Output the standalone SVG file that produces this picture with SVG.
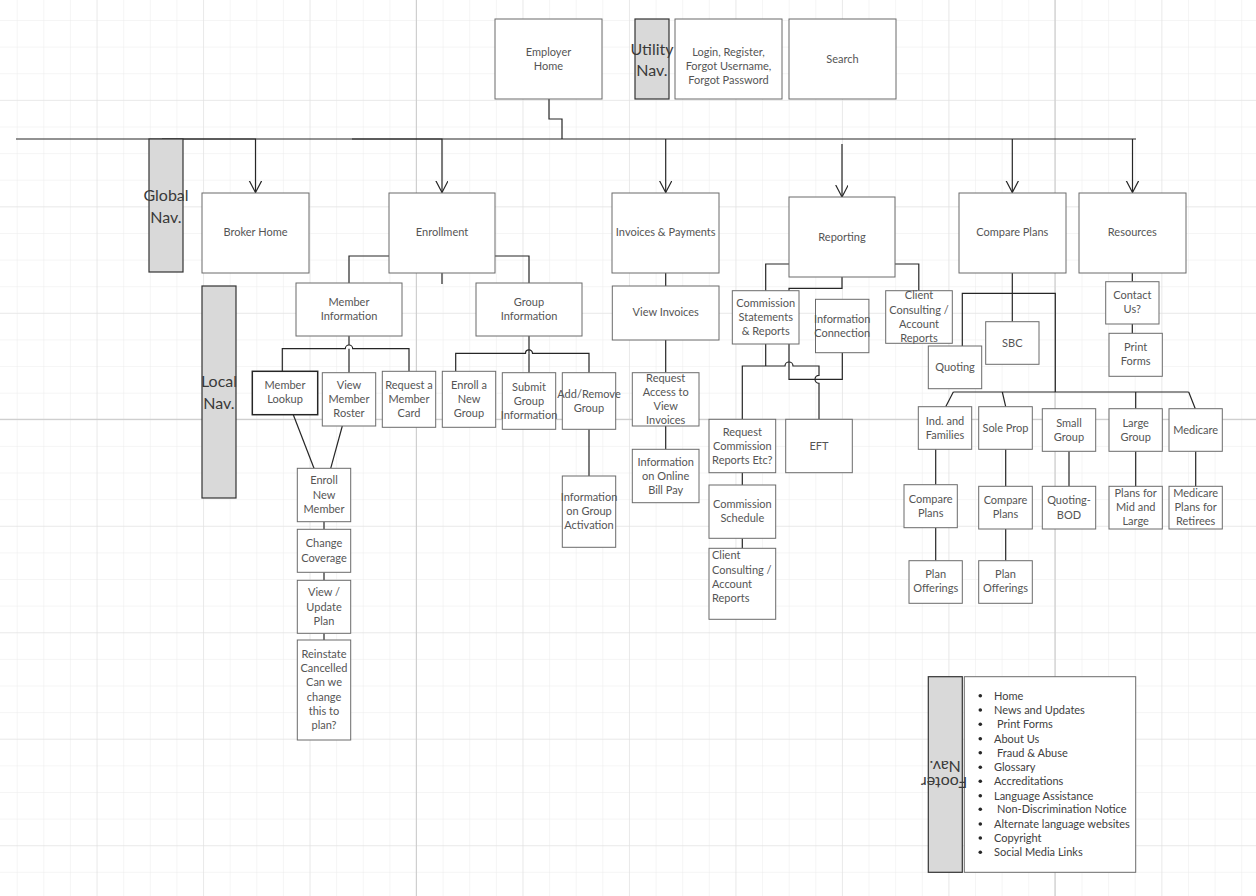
<svg xmlns="http://www.w3.org/2000/svg" width="1256" height="896" viewBox="0 0 1256 896">
<defs>
<pattern id="gMinor" x="16.7" y="20" width="26.62" height="26.62" patternUnits="userSpaceOnUse">
<path d="M0,0 V26.62 M0,0 H26.62" fill="none" stroke="#ececec" stroke-width="1"/>
</pattern>
<pattern id="gMajor" x="96.56" y="99.86" width="106.48" height="106.48" patternUnits="userSpaceOnUse">
<path d="M0,0 V106.48 M0,0 H106.48" fill="none" stroke="#e0e0e0" stroke-width="1"/>
</pattern>
<marker id="arr" markerUnits="userSpaceOnUse" markerWidth="16" markerHeight="16" refX="12" refY="6.3" orient="auto">
<path d="M0,0 L12,6.3 L0,12.6" fill="none" stroke="#262626" stroke-width="1.2"/>
</marker>
<style>
.box{fill:#fff;stroke:#6b6b6b;stroke-width:1}
.dbox{fill:#fff;stroke:#262626;stroke-width:1.5}
.bar{fill:#d9d9d9;stroke:#333;stroke-width:1.2}
.t{font-family:Lato,"Liberation Sans",sans-serif;font-size:11px;fill:#555;text-anchor:middle}
.l{text-anchor:start}
.big{font-family:Lato,"Liberation Sans",sans-serif;font-size:16px;fill:#3a3a3a;text-anchor:middle}
.c{fill:none;stroke:#262626;stroke-width:1.2}
.li{font-family:Lato,"Liberation Sans",sans-serif;font-size:11px;fill:#404040}
</style>
</defs>
<rect width="1256" height="896" fill="#fff"/>
<rect width="1256" height="896" fill="url(#gMinor)"/>
<rect width="1256" height="896" fill="url(#gMajor)"/>
<path d="M416.4,0 V896 M1055,0 V896 M0,419.3 H1256" stroke="#cfcfcf" stroke-width="1.2" fill="none"/>

<g id="connectors">
<path class="c" d="M16,139 H1136"/>
<path class="c" d="M549,99 V119 H562 V139"/>
<path class="c" d="M162,139 H255.5 V192.5" marker-end="url(#arr)"/>
<path class="c" d="M352,139 H442 V192.5" marker-end="url(#arr)"/>
<path class="c" d="M665.7,139 V192.5" marker-end="url(#arr)"/>
<path class="c" d="M842,144 V197" marker-end="url(#arr)"/>
<path class="c" d="M1012.3,139 V192.5" marker-end="url(#arr)"/>
<path class="c" d="M1132.5,139 V192.5" marker-end="url(#arr)"/>
<path class="c" d="M442,273 V284"/>
<path class="c" d="M349,283 V256 H529 V283"/>
<path class="c" d="M349,336 V345"/>
<path class="c" d="M282.3,371.3 V348.7 H345.3 A3.7,3.7 0 0 1 352.7,348.7 H409 V371.3"/>
<path class="c" d="M349,348.7 V372.7"/>
<path class="c" d="M529,336 V353.3"/>
<path class="c" d="M455.7,371.3 V353.3 H525.5 A3.5,3.5 0 0 1 532.5,353.3 H589 V372.7"/>
<path class="c" d="M529,353.3 V372.7"/>
<path class="c" d="M589,429.3 V476"/>
<path class="c" d="M293.3,414.7 L314,468.3"/>
<path class="c" d="M342.3,426 L330.7,468.3"/>
<path class="c" d="M324,521.7 V529.3 M324,572.3 V580.3 M324,633.3 V640"/>
<path class="c" d="M665.7,273 V286 M665.7,340 V372.7 M665.7,426 V449.3"/>
<path class="c" d="M765.7,291 V264 H918.8 V291"/>
<path class="c" d="M842,277 V288.3 H789 V291"/>
<path class="c" d="M765.7,344 V366"/>
<path class="c" d="M742.3,419.3 V366 H785 A4,4 0 0 1 793,366 H819 V375.3 A4,4 0 0 0 819,383.3 V419.3"/>
<path class="c" d="M789,344 V379.3 H842.3 V352.7"/>
<path class="c" d="M742.3,472.7 V485 M742.3,538.3 V548.3"/>
<path class="c" d="M1012.3,273 V321.7"/>
<path class="c" d="M962.3,346 V293.3 H1055.3 V392"/>
<path class="c" d="M953.3,392 H1188.7 M953.3,392 L945.7,406.7 M1002.3,392 L1005.7,406.7 M1135.7,392 V408.7 M1188.7,392 L1195.3,408.7"/>
<path class="c" d="M935.7,449.3 V484.7 M935.7,527.7 V560.7"/>
<path class="c" d="M1005.7,449.3 V486.3 M1005.7,529 V560.7"/>
<path class="c" d="M1069,451.3 V486.3 M1135.7,451.3 V486.3 M1195.7,451.3 V486.3"/>
<path class="c" d="M1132.3,273 V281.7 M1132.3,324 V333.3"/>
</g>

<g id="employer-home"><rect class="box" x="495" y="19" width="107" height="80"/><text class="t" x="548.5" y="56">Employer</text><text class="t" x="548.5" y="70">Home</text></g>
<g id="login"><rect class="box" x="675" y="19" width="107" height="80"/><text class="t" x="728.5" y="56">Login, Register,</text><text class="t" x="728.5" y="70">Forgot Username,</text><text class="t" x="728.5" y="84">Forgot Password</text></g>
<g id="utility-nav"><rect class="bar" x="635" y="19" width="34" height="80"/><text class="big" x="652" y="55">Utility</text><text class="big" x="652" y="76">Nav.</text></g>
<g id="search"><rect class="box" x="789" y="19" width="107" height="80"/><text class="t" x="842.5" y="63">Search</text></g>

<g id="broker-home"><rect class="box" x="202" y="193" width="107" height="80"/><text class="t" x="255.5" y="236">Broker Home</text></g>
<g id="global-nav"><rect class="bar" x="149" y="139" width="34" height="133"/><text class="big" x="166" y="201">Global</text><text class="big" x="166" y="223">Nav.</text></g>
<g id="enrollment"><rect class="box" x="389" y="193" width="106" height="80"/><text class="t" x="442" y="236">Enrollment</text></g>
<g id="invoices"><rect class="box" x="612" y="193" width="107" height="80"/><text class="t" x="665.7" y="236">Invoices &amp; Payments</text></g>
<g id="reporting"><rect class="box" x="789" y="197" width="106" height="80"/><text class="t" x="842" y="241">Reporting</text></g>
<g id="compare-plans"><rect class="box" x="959" y="193" width="107" height="80"/><text class="t" x="1012.3" y="236">Compare Plans</text></g>
<g id="resources"><rect class="box" x="1079" y="193" width="107" height="80"/><text class="t" x="1132.3" y="236">Resources</text></g>

<g id="member-info"><rect class="box" x="296" y="283" width="106" height="53"/><text class="t" x="349" y="306">Member</text><text class="t" x="349" y="320">Information</text></g>
<g id="group-info"><rect class="box" x="476" y="283" width="106" height="53"/><text class="t" x="529" y="306">Group</text><text class="t" x="529" y="320">Information</text></g>
<g id="member-lookup"><rect class="dbox" x="252.3" y="371.3" width="65.4" height="43.4"/><text class="t" x="285" y="389">Member</text><text class="t" x="285" y="403">Lookup</text></g>
<g id="local-nav"><rect class="bar" x="202" y="286" width="34" height="212"/><text class="big" x="219" y="387">Local</text><text class="big" x="219" y="409">Nav.</text></g>
<g id="view-roster"><rect class="box" x="322.3" y="372.7" width="53.4" height="53.3"/><text class="t" x="349" y="389">View</text><text class="t" x="349" y="403">Member</text><text class="t" x="349" y="417">Roster</text></g>
<g id="member-card"><rect class="box" x="382.3" y="371.3" width="53.4" height="56"/><text class="t" x="409" y="388.7">Request a</text><text class="t" x="409" y="402.7">Member</text><text class="t" x="409" y="417.3">Card</text></g>
<g id="enroll-group"><rect class="box" x="442.3" y="371.3" width="53.4" height="56"/><text class="t" x="469" y="388.7">Enroll a</text><text class="t" x="469" y="402.7">New</text><text class="t" x="469" y="417.3">Group</text></g>
<g id="submit-group"><rect class="box" x="502.3" y="372.7" width="53.4" height="56.6"/><text class="t" x="529" y="390.7">Submit</text><text class="t" x="529" y="404.7">Group</text><text class="t" x="529" y="418.7">Information</text></g>
<g id="add-remove"><rect class="box" x="562.3" y="372.7" width="53.4" height="56.6"/><text class="t" x="589" y="398">Add/Remove</text><text class="t" x="589" y="412">Group</text></g>
<g id="group-activation"><rect class="box" x="562.3" y="476" width="53.4" height="71.3"/><text class="t" x="589" y="501">Information</text><text class="t" x="589" y="515">on Group</text><text class="t" x="589" y="529">Activation</text></g>
<g id="enroll-member"><rect class="box" x="297.3" y="468.3" width="53.4" height="53.4"/><text class="t" x="324" y="484.3">Enroll</text><text class="t" x="324" y="499">New</text><text class="t" x="324" y="513.3">Member</text></g>
<g id="change-coverage"><rect class="box" x="297.3" y="529.3" width="53.4" height="43"/><text class="t" x="324" y="547.3">Change</text><text class="t" x="324" y="562">Coverage</text></g>
<g id="update-plan"><rect class="box" x="297.3" y="580.3" width="53.4" height="53"/><text class="t" x="324" y="596.3">View /</text><text class="t" x="324" y="610.7">Update</text><text class="t" x="324" y="625">Plan</text></g>
<g id="reinstate"><rect class="box" x="297.3" y="640" width="53.4" height="100"/><text class="t" x="324" y="657.7">Reinstate</text><text class="t" x="324" y="672.3">Cancelled</text><text class="t" x="324" y="686">Can we</text><text class="t" x="324" y="701">change</text><text class="t" x="324" y="714.7">this to</text><text class="t" x="324" y="729">plan?</text></g>

<g id="view-invoices"><rect class="box" x="612.3" y="286" width="106.7" height="54"/><text class="t" x="665.7" y="316">View Invoices</text></g>
<g id="request-access"><rect class="box" x="632.3" y="372.7" width="66.7" height="53.3"/><text class="t" x="665.7" y="382.3">Request</text><text class="t" x="665.7" y="396.3">Access to</text><text class="t" x="665.7" y="410.3">View</text><text class="t" x="665.7" y="424.3">Invoices</text></g>
<g id="bill-pay"><rect class="box" x="632.3" y="449.3" width="66.7" height="53.4"/><text class="t" x="665.7" y="465.7">Information</text><text class="t" x="665.7" y="479.7">on Online</text><text class="t" x="665.7" y="494">Bill Pay</text></g>
<g id="commission-statements"><rect class="box" x="732.3" y="290.7" width="66.7" height="53.3"/><text class="t" x="765.7" y="306.7">Commission</text><text class="t" x="765.7" y="320.7">Statements</text><text class="t" x="765.7" y="335">&amp; Reports</text></g>
<g id="info-connection"><rect class="box" x="815.5" y="299.3" width="53.4" height="53.4"/><text class="t" x="842.2" y="322.7">Information</text><text class="t" x="842.2" y="336.7">Connection</text></g>
<g id="client-consulting-1"><rect class="box" x="885.7" y="290.7" width="66.6" height="52.6"/><text class="t" x="919" y="299.3">Client</text><text class="t" x="919" y="313.7">Consulting /</text><text class="t" x="919" y="328">Account</text><text class="t" x="919" y="342">Reports</text></g>
<g id="request-commission"><rect class="box" x="709" y="419.3" width="66.7" height="53.4"/><text class="t" x="742.3" y="435.7">Request</text><text class="t" x="742.3" y="450">Commission</text><text class="t" x="742.3" y="464">Reports Etc?</text></g>
<g id="eft"><rect class="box" x="785.7" y="419.3" width="66.6" height="53.4"/><text class="t" x="819" y="450">EFT</text></g>
<g id="commission-schedule"><rect class="box" x="709" y="485" width="66.7" height="53.3"/><text class="t" x="742.3" y="508">Commission</text><text class="t" x="742.3" y="522">Schedule</text></g>
<g id="client-consulting-2"><rect class="box" x="709" y="548.3" width="66.7" height="71"/><text class="t l" x="712" y="559.3">Client</text><text class="t l" x="712" y="573.7">Consulting /</text><text class="t l" x="712" y="588">Account</text><text class="t l" x="712" y="602.3">Reports</text></g>

<g id="sbc"><rect class="box" x="985.7" y="321.7" width="53.3" height="42.6"/><text class="t" x="1012.3" y="346.7">SBC</text></g>
<g id="quoting"><rect class="box" x="928.3" y="346" width="53.4" height="42.7"/><text class="t" x="955" y="371.3">Quoting</text></g>
<g id="contact-us"><rect class="box" x="1105.7" y="281.7" width="53.3" height="42.3"/><text class="t" x="1132.3" y="299.3">Contact</text><text class="t" x="1132.3" y="313.3">Us?</text></g>
<g id="print-forms"><rect class="box" x="1109" y="333.3" width="53.3" height="43"/><text class="t" x="1135.7" y="351.3">Print</text><text class="t" x="1135.7" y="365.3">Forms</text></g>
<g id="ind-families"><rect class="box" x="918.3" y="406.7" width="53.4" height="42.6"/><text class="t" x="945" y="425.3">Ind. and</text><text class="t" x="945" y="439.3">Families</text></g>
<g id="sole-prop"><rect class="box" x="978.7" y="406.7" width="53.6" height="42.6"/><text class="t" x="1005.5" y="432">Sole Prop</text></g>
<g id="small-group"><rect class="box" x="1042.3" y="408.7" width="53.4" height="42.6"/><text class="t" x="1069" y="426.7">Small</text><text class="t" x="1069" y="441.3">Group</text></g>
<g id="large-group"><rect class="box" x="1109" y="408.7" width="53.3" height="42.6"/><text class="t" x="1135.7" y="426.7">Large</text><text class="t" x="1135.7" y="441.3">Group</text></g>
<g id="medicare"><rect class="box" x="1169" y="408.7" width="53.3" height="42.6"/><text class="t" x="1195.7" y="434">Medicare</text></g>
<g id="compare-plans-1"><rect class="box" x="904" y="484.7" width="53.3" height="43"/><text class="t" x="930.7" y="503">Compare</text><text class="t" x="930.7" y="517">Plans</text></g>
<g id="plan-offerings-1"><rect class="box" x="909" y="560.7" width="53.3" height="42.6"/><text class="t" x="935.7" y="578.3">Plan</text><text class="t" x="935.7" y="592.3">Offerings</text></g>
<g id="compare-plans-2"><rect class="box" x="978.7" y="486.3" width="53.6" height="42.7"/><text class="t" x="1005.5" y="504.3">Compare</text><text class="t" x="1005.5" y="518.3">Plans</text></g>
<g id="plan-offerings-2"><rect class="box" x="978.7" y="560.7" width="53.6" height="42.6"/><text class="t" x="1005.5" y="578.3">Plan</text><text class="t" x="1005.5" y="592.3">Offerings</text></g>
<g id="quoting-bod"><rect class="box" x="1042.3" y="486.3" width="53.4" height="42.7"/><text class="t" x="1069" y="504.3">Quoting-</text><text class="t" x="1069" y="518.7">BOD</text></g>
<g id="plans-mid-large"><rect class="box" x="1109" y="486.3" width="53.3" height="42.7"/><text class="t" x="1135.7" y="496.7">Plans for</text><text class="t" x="1135.7" y="511">Mid and</text><text class="t" x="1135.7" y="525.3">Large</text></g>
<g id="medicare-retirees"><rect class="box" x="1169" y="486.3" width="53.3" height="42.7"/><text class="t" x="1195.7" y="496.7">Medicare</text><text class="t" x="1195.7" y="511">Plans for</text><text class="t" x="1195.7" y="525.3">Retirees</text></g>

<g id="footer-list"><rect class="box" x="964.3" y="676.7" width="171.4" height="195.6"/>
<g fill="#262626"><circle cx="980.3" cy="695.7" r="1.8"/><circle cx="980.3" cy="710" r="1.8"/><circle cx="980.3" cy="724.3" r="1.8"/><circle cx="980.3" cy="738.7" r="1.8"/><circle cx="980.3" cy="752.7" r="1.8"/><circle cx="980.3" cy="767.3" r="1.8"/><circle cx="980.3" cy="781.3" r="1.8"/><circle cx="980.3" cy="795.7" r="1.8"/><circle cx="980.3" cy="809.3" r="1.8"/><circle cx="980.3" cy="824" r="1.8"/><circle cx="980.3" cy="838" r="1.8"/><circle cx="980.3" cy="852.3" r="1.8"/></g>
<text class="li" x="994" y="699.7">Home</text>
<text class="li" x="994" y="714">News and Updates</text>
<text class="li" x="997" y="728.3">Print Forms</text>
<text class="li" x="994" y="742.7">About Us</text>
<text class="li" x="997" y="756.7">Fraud &amp; Abuse</text>
<text class="li" x="994" y="771.3">Glossary</text>
<text class="li" x="994" y="785.3">Accreditations</text>
<text class="li" x="994" y="799.7">Language Assistance</text>
<text class="li" x="997" y="813.3">Non-Discrimination Notice</text>
<text class="li" x="994" y="828">Alternate language websites</text>
<text class="li" x="994" y="842">Copyright</text>
<text class="li" x="994" y="856.3">Social Media Links</text>
</g>
<g id="footer-nav"><rect class="bar" x="928.3" y="676.7" width="34" height="195.6"/><g transform="rotate(180 945.3 774.5)"><text class="big" x="946.6" y="771.7">Footer</text><text class="big" x="945.6" y="788.3">Nav.</text></g></g>
</svg>
